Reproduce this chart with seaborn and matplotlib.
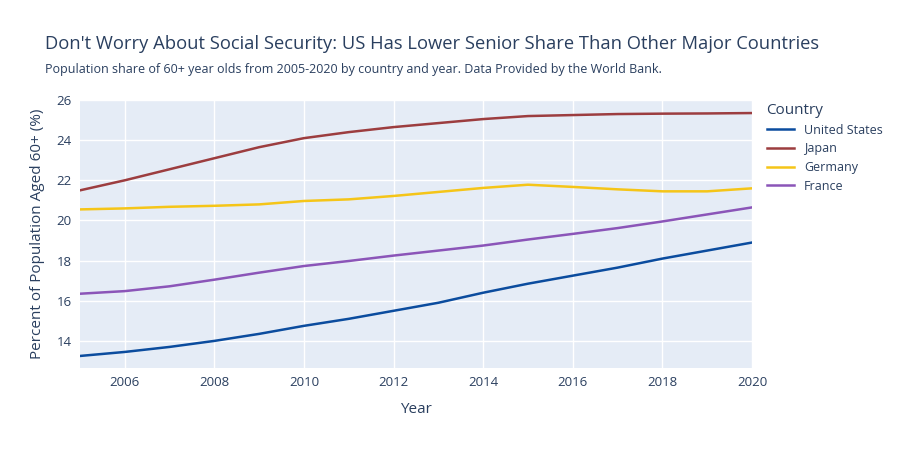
import matplotlib
matplotlib.use("Agg")
import matplotlib.pyplot as plt
import seaborn as sns
import pandas as pd

years = list(range(2005, 2021))
us = [13.25, 13.45, 13.7, 14.0, 14.35, 14.75, 15.1, 15.5, 15.9, 16.4, 16.85, 17.25, 17.65, 18.1, 18.5, 18.9]
japan = [21.5, 22.0, 22.55, 23.1, 23.65, 24.1, 24.4, 24.65, 24.85, 25.05, 25.2, 25.25, 25.3, 25.32, 25.33, 25.35]
germany = [20.55, 20.6, 20.68, 20.73, 20.8, 20.97, 21.05, 21.22, 21.42, 21.62, 21.78, 21.67, 21.55, 21.45, 21.45, 21.6]
france = [16.35, 16.48, 16.72, 17.05, 17.4, 17.73, 17.98, 18.25, 18.5, 18.75, 19.05, 19.33, 19.62, 19.95, 20.3, 20.65]
countries = ["United States", "Japan", "Germany", "France"]
colors = ["#0B4C9E", "#9C3D3F", "#F5C518", "#8B55B8"]

df = pd.DataFrame({"Year": years * 4,
                   "Share": us + japan + germany + france,
                   "Country": sum([[c] * len(years) for c in countries], [])})

plt.rcParams["font.family"] = ["Open Sans", "DejaVu Sans"]
fig = plt.figure(figsize=(9.05, 4.5), dpi=100)
ax = fig.add_axes([80 / 905, 1 - 368 / 450, 672 / 905, 268 / 450])
ax.set_facecolor("#E5ECF6")
sns.lineplot(data=df, x="Year", y="Share", hue="Country", palette=colors, ax=ax, linewidth=1.8)
ax.set_xlim(2005, 2020)
ax.set_ylim(12.65, 26)
ax.set_xticks(range(2006, 2021, 2))
ax.set_yticks(range(14, 27, 2))
ax.grid(True, color="white", linewidth=1)
ax.set_axisbelow(True)
for s in ax.spines.values():
    s.set_visible(False)
ax.tick_params(length=0, labelsize=9.5, colors="#2a3f5f", pad=6)
ax.set_xlabel("Year", fontsize=11, color="#2a3f5f", labelpad=9)
ax.set_ylabel("Percent of Population Aged 60+ (%)", fontsize=11, color="#2a3f5f", labelpad=8)
leg = ax.legend(title="Country", loc="upper left", bbox_to_anchor=(1.005, 1.03), frameon=False,
                fontsize=9, title_fontsize=11, handlelength=2.2, labelspacing=0.45)
leg._legend_box.align = "left"
for t in leg.get_texts():
    t.set_color("#2a3f5f")
leg.get_title().set_color("#2a3f5f")
fig.text(45 / 905, 1 - 44 / 450, "Don't Worry About Social Security: US Has Lower Senior Share Than Other Major Countries",
         fontsize=13.2, color="#2a3f5f", va="center")
fig.text(45 / 905, 1 - 69 / 450, "Population share of 60+ year olds from 2005-2020 by country and year. Data Provided by the World Bank.",
         fontsize=9, color="#2a3f5f", va="center")
fig.savefig("out.png", dpi=100)
